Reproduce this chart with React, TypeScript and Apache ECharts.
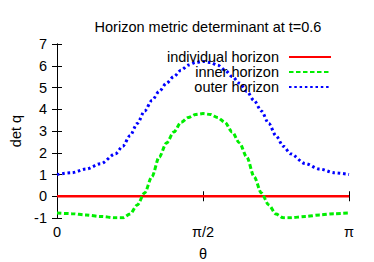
import React, { useEffect, useRef } from "react";
import * as echarts from "echarts";

// θ expressed in units of π
const thetaOverPi = [
  0, 0.05, 0.1, 0.15, 0.2, 0.225, 0.25, 0.275, 0.3, 0.325, 0.35, 0.375, 0.4, 0.425, 0.45, 0.475, 0.5,
  0.525, 0.55, 0.575, 0.6, 0.625, 0.65, 0.675, 0.7, 0.725, 0.75, 0.775, 0.8, 0.85, 0.9, 0.95, 1,
];
const individualHorizon = [
  0, 0, 0, 0, 0, 0, 0, 0, 0, 0, 0, 0, 0, 0, 0, 0, 0,
  0, 0, 0, 0, 0, 0, 0, 0, 0, 0, 0, 0, 0, 0, 0, 0,
];
const innerHorizon = [
  -0.77, -0.8, -0.86, -0.93, -0.99, -0.99, -0.82, -0.4, 0.15, 0.9, 1.8, 2.45, 2.95, 3.4, 3.62, 3.76, 3.8,
  3.76, 3.62, 3.4, 2.95, 2.45, 1.8, 0.9, 0.15, -0.4, -0.82, -0.99, -0.99, -0.93, -0.86, -0.8, -0.77,
];
const outerHorizon = [
  1.0, 1.08, 1.25, 1.5, 1.95, 2.3, 2.78, 3.35, 3.92, 4.4, 4.82, 5.2, 5.5, 5.8, 6.03, 6.15, 6.2,
  6.15, 6.03, 5.8, 5.5, 5.2, 4.82, 4.4, 3.92, 3.35, 2.78, 2.3, 1.95, 1.5, 1.25, 1.08, 1.0,
];
const seriesNames = ["individual horizon", "inner horizon", "outer horizon"];
const xTickValues = [0, 0.5, 1];
const xTickLabels = ["0", "π/2", "π"];
const titleText = "Horizon metric determinant at t=0.6";

const FONT = "'Liberation Sans', Arial, sans-serif";
const FS = 14.5;

export default function App() {
  const ref = useRef<HTMLDivElement>(null);
  useEffect(() => {
    if (!ref.current) return;
    const chart = echarts.init(ref.current, undefined, { renderer: "svg" });
    const pair = (ys: number[]) => thetaOverPi.map((x, i) => [x, ys[i]]);
    const xFmt = (v: number) => {
      const idx = xTickValues.findIndex((t) => Math.abs(t - v) < 1e-9);
      return idx >= 0 ? xTickLabels[idx] : "";
    };
    const tick = { inside: true, length: 5, lineStyle: { color: "#000", width: 1 } };
    const line = { lineStyle: { color: "#000", width: 1 } };
    chart.setOption({
      animation: false,
      backgroundColor: "#fff",
      textStyle: { fontFamily: FONT },
      title: {
        text: titleText,
        left: 203,
        top: 14,
        textAlign: "center",
        textStyle: { fontSize: FS, fontWeight: "normal", color: "#000", fontFamily: FONT },
      },
      legend: {
        orient: "vertical",
        right: 42,
        top: 49.5,
        padding: 0,
        align: "right",
        itemWidth: 42,
        itemHeight: 10,
        itemGap: 0,
        itemStyle: { opacity: 0 },
        textStyle: { fontSize: FS, lineHeight: 15, color: "#000", fontFamily: FONT, padding: [0, 5, 0, 0] },
        data: seriesNames,
      },
      grid: { left: 57, right: 25, top: 44, bottom: 44, outerBoundsMode: "none", containLabel: false },
      xAxis: [
        {
          type: "value",
          min: 0,
          max: 1,
          interval: 0.5,
          name: "θ",
          nameLocation: "middle",
          nameGap: 28,
          nameTextStyle: { fontSize: FS, color: "#000", fontFamily: FONT },
          axisLine: line,
          axisTick: tick,
          splitLine: { show: false },
          axisLabel: { formatter: xFmt, fontSize: FS, color: "#000", margin: 6, fontFamily: FONT },
        },
        {
          type: "value",
          position: "top",
          min: 0,
          max: 1,
          interval: 0.5,
          axisLine: line,
          axisTick: tick,
          splitLine: { show: false },
          axisLabel: { show: false },
        },
      ],
      yAxis: [
        {
          type: "value",
          min: -1,
          max: 7,
          interval: 1,
          name: "det q",
          nameLocation: "middle",
          nameGap: 31,
          nameRotate: 90,
          nameTextStyle: { fontSize: FS, color: "#000", fontFamily: FONT },
          axisLine: line,
          axisTick: tick,
          splitLine: { show: false },
          axisLabel: { fontSize: FS, color: "#000", margin: 10, fontFamily: FONT },
        },
        {
          type: "value",
          position: "right",
          min: -1,
          max: 7,
          interval: 1,
          axisLine: line,
          axisTick: tick,
          splitLine: { show: false },
          axisLabel: { show: false },
        },
      ],
      series: [
        {
          name: seriesNames[0],
          type: "line",
          data: pair(individualHorizon),
          showSymbol: false,
          symbol: "none",
          color: "#ff0000",
          lineStyle: { color: "#ff0000", width: 2.5 },
        },
        {
          name: seriesNames[1],
          type: "line",
          data: pair(innerHorizon),
          showSymbol: false,
          symbol: "none",
          smooth: 0.3,
          smoothMonotone: "x",
          color: "#00ee00",
          lineStyle: { color: "#00ee00", width: 3, type: [4.5, 2.5] },
        },
        {
          name: seriesNames[2],
          type: "line",
          data: pair(outerHorizon),
          showSymbol: false,
          symbol: "none",
          smooth: 0.3,
          smoothMonotone: "x",
          color: "#0000ff",
          lineStyle: { color: "#0000ff", width: 3, type: [2.5, 2.8] },
        },
      ],
    });
    return () => chart.dispose();
  }, []);
  return <div ref={ref} style={{ width: 374, height: 262, position: "absolute", left: 0, top: 0 }} />;
}
